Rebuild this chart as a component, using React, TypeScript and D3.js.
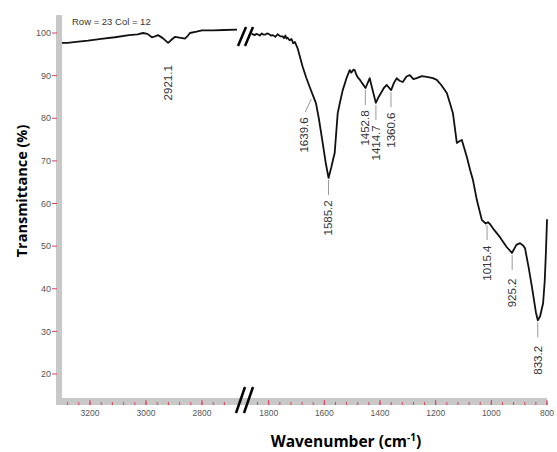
import React from 'react';
import { scaleLinear, line, range } from 'd3';

// high wavenumber part (left of the break)
const leftWn = [3300, 3280, 3250, 3207, 3160, 3111, 3060, 3030, 3011, 2995, 2979, 2968, 2957, 2940, 2921, 2906, 2896, 2880, 2861, 2850, 2843, 2820, 2800, 2760, 2720, 2675];
const leftT = [97.7, 97.7, 97.9, 98.2, 98.6, 99.0, 99.5, 99.7, 100.0, 99.8, 99.0, 99.2, 99.5, 98.8, 97.7, 98.6, 99.1, 98.9, 98.7, 99.4, 100.0, 100.3, 100.6, 100.6, 100.7, 100.8];

// fingerprint part (right of the break)
const rightWn = [1861, 1855, 1850, 1845, 1840, 1832, 1825, 1818, 1814, 1806, 1800, 1792, 1785, 1776, 1768, 1758, 1750, 1745, 1740, 1736, 1732, 1725, 1718, 1712, 1706, 1696, 1688, 1678, 1665, 1653, 1640, 1630, 1620, 1606, 1595, 1585, 1575, 1568, 1563, 1552, 1543, 1534, 1527, 1520, 1509, 1503, 1500, 1495, 1491, 1485, 1480, 1472, 1465, 1452, 1437, 1428, 1415, 1405, 1394, 1385, 1376, 1360, 1350, 1340, 1330, 1318, 1305, 1293, 1280, 1268, 1250, 1232, 1210, 1196, 1180, 1160, 1150, 1138, 1124, 1115, 1106, 1088, 1076, 1066, 1052, 1034, 1020, 1012, 1005, 990, 969, 945, 926, 910, 897, 885, 879, 866, 854, 840, 833, 825, 814, 808, 804, 801, 800];
const rightT = [99.9, 99.6, 99.5, 99.8, 99.7, 99.4, 99.9, 99.6, 99.6, 99.9, 99.8, 99.4, 99.5, 99.1, 99.7, 99.2, 99.2, 98.8, 99.4, 98.7, 98.9, 98.3, 98.6, 97.6, 97.9, 96.4, 94.5, 92.1, 89.5, 87.4, 85.2, 83.5, 80.0, 74.2, 69.5, 66.0, 68.5, 70.5, 71.8, 81.2, 84.0, 86.6, 88.0, 89.5, 91.3, 90.7, 91.0, 91.4, 91.3, 90.2, 89.6, 89.0, 88.3, 87.1, 89.4, 87.0, 83.6, 85.0, 86.2, 87.2, 87.8, 86.6, 88.3, 89.4, 88.8, 88.5, 89.8, 90.1, 89.2, 89.4, 89.9, 89.7, 89.4, 89.0, 87.8, 85.9, 83.8, 81.2, 74.2, 74.6, 74.9, 70.9, 67.8, 65.5, 60.8, 56.1, 55.3, 55.6, 55.2, 53.8, 52.1, 49.8, 48.4, 50.3, 50.7, 50.1, 49.5, 45.0, 40.4, 34.5, 32.6, 33.5, 36.6, 42.0, 48.4, 54.0, 56.3];

const leftTicks = [3200, 3000, 2800];
const rightTicks = [1800, 1600, 1400, 1200, 1000, 800];
const yTicks = [100, 90, 80, 70, 60, 50, 40, 30, 20];

// peak labels: wavenumber and T at the peak
const peakWn = [2921.1, 1639.6, 1585.2, 1452.8, 1414.7, 1360.6, 1015.4, 925.2, 833.2];
const peakT = [97.7, 85.0, 66.0, 87.1, 83.6, 86.6, 55.4, 48.4, 32.6];

const W = 557;
const H = 452;

const App = () => {
  const xL = scaleLinear().domain([3300, 2675]).range([62, 237]);
  const xR = scaleLinear().domain([1860, 800]).range([252, 547]);
  const y = scaleLinear().domain([100, 20]).range([33, 374]);
  const xOf = (w: number) => (w > 2000 ? xL(w) : xR(w));

  const leftPts = leftWn.map((w, i) => [xL(w), y(leftT[i])] as [number, number]);
  const rightPts = rightWn.map((w, i) => [xR(w), y(rightT[i])] as [number, number]);
  const path = line();

  const minorL = range(3280, 2680, -40);
  const minorR = range(1840, 799, -40);

  const axisY = 398;

  return (
    <svg width={W} height={H} style={{ position: 'absolute', left: 0, top: 0, background: '#fff' }}>
      {/* axis frame */}
      <rect x={56} y={15} width={6} height={axisY + 7 - 15} fill="#c8c8c8" />
      <rect x={56} y={axisY} width={547 - 56} height={7} fill="#c8c8c8" />

      {/* y ticks */}
      {yTicks.map(t => (
        <g key={t}>
          <line x1={52} x2={57} y1={y(t)} y2={y(t)} stroke="#d9405a" strokeWidth={1} />
          <text x={51} y={y(t)} dy="0.35em" textAnchor="end" fontFamily="Liberation Sans, Arial" fontSize={9} fill="#555">{t}</text>
        </g>
      ))}

      {/* x ticks */}
      {minorL.map(w => (
        <line key={'ml' + w} x1={xL(w)} x2={xL(w)} y1={axisY + 4} y2={axisY + 7} stroke="#d9405a" strokeWidth={1} />
      ))}
      {minorR.map(w => (
        <line key={'mr' + w} x1={xR(w)} x2={xR(w)} y1={axisY + 4} y2={axisY + 7} stroke="#d9405a" strokeWidth={1} />
      ))}
      {leftTicks.map(w => (
        <g key={'l' + w}>
          <line x1={xL(w)} x2={xL(w)} y1={axisY + 2} y2={axisY + 7} stroke="#d9405a" strokeWidth={1} />
          <text x={xL(w)} y={axisY + 18} textAnchor="middle" fontFamily="Liberation Sans, Arial" fontSize={8.5} fill="#555">{w}</text>
        </g>
      ))}
      {rightTicks.map(w => (
        <g key={'r' + w}>
          <line x1={xR(w)} x2={xR(w)} y1={axisY + 2} y2={axisY + 7} stroke="#d9405a" strokeWidth={1} />
          <text x={xR(w)} y={axisY + 18} textAnchor="middle" fontFamily="Liberation Sans, Arial" fontSize={8.5} fill="#555">{w}</text>
        </g>
      ))}

      {/* spectrum */}
      <path d={path(leftPts) || ''} fill="none" stroke="#111" strokeWidth={1.8} strokeLinejoin="round" />
      <path d={path(rightPts) || ''} fill="none" stroke="#111" strokeWidth={1.8} strokeLinejoin="round" />

      {/* break marks */}
      <g stroke="#000" strokeWidth={2.5}>
        <line x1={238} y1={46} x2={246} y2={27} />
        <line x1={245} y1={46} x2={253} y2={27} />
        <line x1={236} y1={413} x2={245} y2={387} />
        <line x1={244} y1={413} x2={253} y2={387} />
      </g>

      {/* peak labels */}
      {peakWn.map((w, i) => {
        const px = xOf(w);
        const py = y(peakT[i]);
        if (i === 0) {
          return (
            <text key={w} transform={`translate(${px + 4},${py + 40}) rotate(-90)`} textAnchor="middle" fontFamily="Liberation Sans, Arial" fontSize={11.5} fill="#333">{w.toFixed(1)}</text>
          );
        }
        if (i === 1) {
          return (
            <g key={w}>
              <line x1={px - 2} y1={py + 2} x2={px - 8} y2={py + 15} stroke="#999" strokeWidth={1} />
              <text transform={`translate(${px - 5},${py + 38}) rotate(-90)`} textAnchor="middle" fontFamily="Liberation Sans, Arial" fontSize={11.5} fill="#333">{w.toFixed(1)}</text>
            </g>
          );
        }
        return (
          <g key={w}>
            <line x1={px} y1={py + 2} x2={px} y2={py + 17} stroke="#999" strokeWidth={1} />
            <text transform={`translate(${px + 4},${py + 40}) rotate(-90)`} textAnchor="middle" fontFamily="Liberation Sans, Arial" fontSize={11.5} fill="#333">{w.toFixed(1)}</text>
          </g>
        );
      })}

      <text x={72} y={25} fontFamily="Liberation Sans, Arial" fontSize={9.5} fill="#333">Row = 23 Col = 12</text>

      {/* axis titles */}
      <text transform="translate(27,191) rotate(-90)" textAnchor="middle" fontFamily="Open Sans" fontWeight="bold" fontSize={14.5} fill="#000">Transmittance (%)</text>
      <text x={346} y={447} textAnchor="middle" fontFamily="Open Sans" fontWeight="bold" fontSize={15.5} fill="#000">
        Wavenumber (cm<tspan fontSize={10} dy={-6}>-1</tspan><tspan dy={6}>)</tspan>
      </text>
    </svg>
  );
};

export default App;
